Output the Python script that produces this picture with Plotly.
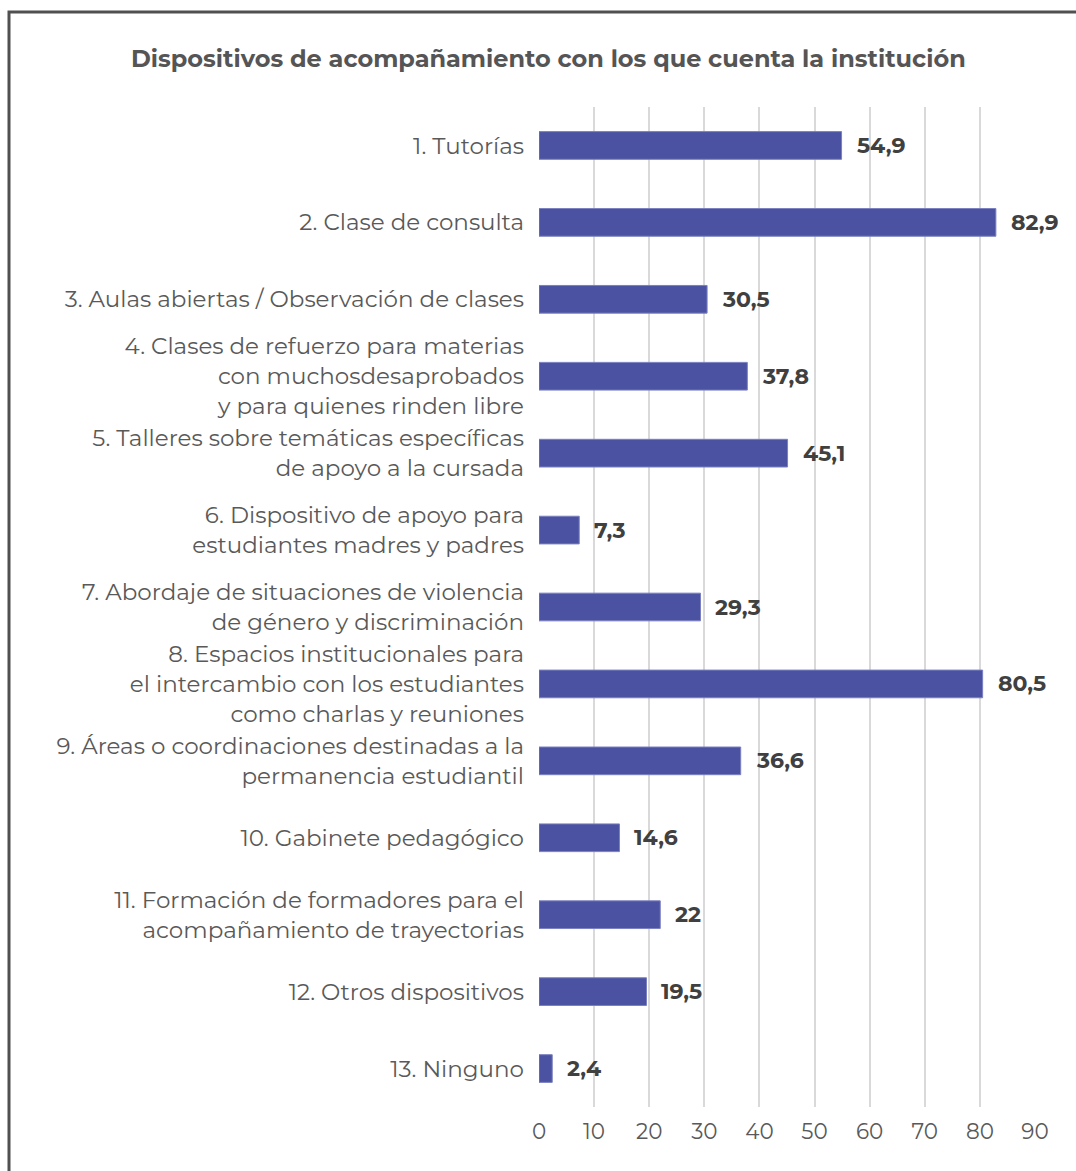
import plotly.graph_objects as go

categories = [
    "1. Tutorías",
    "2. Clase de consulta",
    "3. Aulas abiertas / Observación de clases",
    "4. Clases de refuerzo para materias<br>con muchosdesaprobados<br>y para quienes rinden libre",
    "5. Talleres sobre temáticas específicas<br>de apoyo a la cursada",
    "6. Dispositivo de apoyo para<br>estudiantes madres y padres",
    "7. Abordaje de situaciones de violencia<br>de género y discriminación",
    "8. Espacios institucionales para<br>el intercambio con los estudiantes<br>como charlas y reuniones",
    "9. Áreas o coordinaciones destinadas a la<br>permanencia estudiantil",
    "10. Gabinete pedagógico",
    "11. Formación de formadores para el<br>acompañamiento de trayectorias",
    "12. Otros dispositivos",
    "13. Ninguno",
]
values = [54.9, 82.9, 30.5, 37.8, 45.1, 7.3, 29.3, 80.5, 36.6, 14.6, 22, 19.5, 2.4]
tick_values = [0, 10, 20, 30, 40, 50, 60, 70, 80, 90]
title = "Dispositivos de acompañamiento con los que cuenta la institución"

FONT = "Montserrat, Inter, 'Noto Sans', sans-serif"


def fmt(v):
    s = f"{v:g}"
    return s.replace(".", ",")


W, H = 1076, 1171
L, R, T, B = 539, 1076 - 1035, 107, 1171 - 1107
pw, ph = W - L - R, H - T - B

fig = go.Figure()
fig.add_trace(go.Bar(
    x=values,
    y=categories,
    orientation="h",
    width=0.36,
    marker=dict(color="#4A52A1", line=dict(color="#7a80c0", width=1)),
    hoverinfo="skip",
))

for v, c in zip(values, categories):
    fig.add_annotation(
        x=v, y=c, xref="x", yref="y",
        text=f"<b>{fmt(v)}</b>",
        showarrow=False, xanchor="left", yanchor="middle",
        xshift=13,
        font=dict(family=FONT, size=22, color="#404040"),
    )

fig.add_annotation(
    x=(548 - L) / pw, y=(H - B - 58) / ph, xref="paper", yref="paper",
    text="<b>" + title + "</b>",
    showarrow=False, xanchor="center", yanchor="middle",
    font=dict(family=FONT, size=24, color="#555555"),
)

fig.add_shape(
    type="rect", xref="paper", yref="paper",
    x0=(9 - L) / pw, x1=(1090 - L) / pw,
    y0=(H - B - 1190) / ph, y1=(H - B - 12) / ph,
    line=dict(color="#505050", width=3), fillcolor="rgba(0,0,0,0)",
    layer="above",
)

fig.update_layout(
    width=W, height=H,
    margin=dict(l=L, r=R, t=T, b=B, autoexpand=False),
    paper_bgcolor="white", plot_bgcolor="white",
    showlegend=False,
    font=dict(family=FONT, color="#595959"),
)
fig.update_xaxes(
    range=[0, 90], tickvals=tick_values,
    showgrid=True, gridcolor="#d9d9d9", gridwidth=2,
    zeroline=False, showline=False,
    tickfont=dict(family=FONT, size=21.5, color="#595959"),
    ticks="", ticklabelstandoff=9,
    fixedrange=True,
)
fig.update_yaxes(
    categoryorder="array", categoryarray=categories,
    autorange="reversed",
    showgrid=False, zeroline=False, showline=False,
    tickfont=dict(family=FONT, size=23, color="#595959"),
    ticks="", ticklabelstandoff=14,
    fixedrange=True,
)

fig.write_html("out.html")
